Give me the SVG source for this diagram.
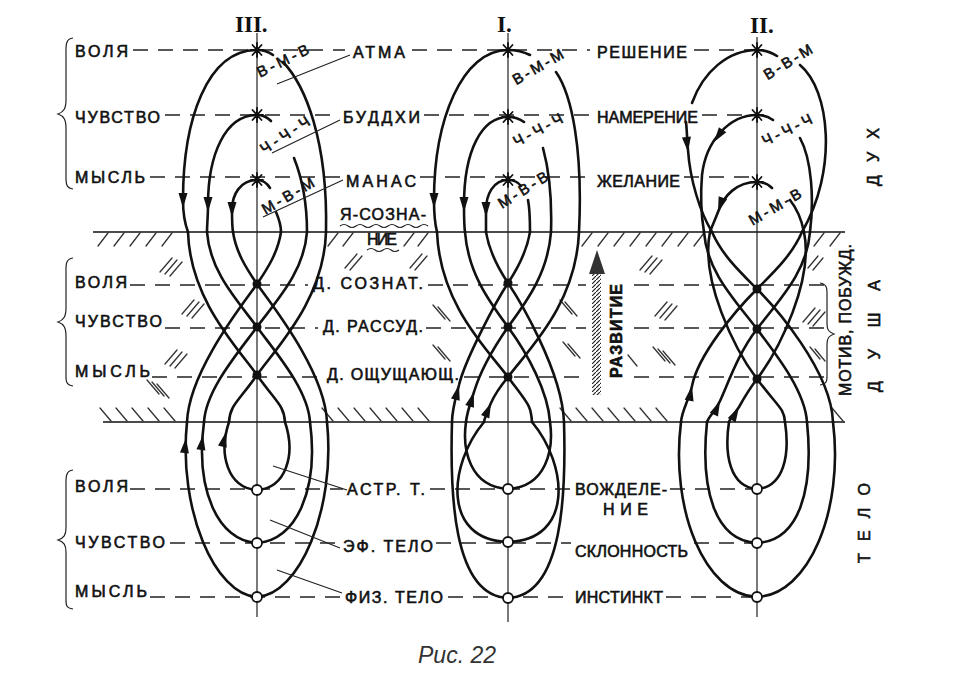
<svg xmlns="http://www.w3.org/2000/svg" width="958" height="680" viewBox="0 0 958 680">
<defs>
<style>
.c{fill:none;stroke:#111;stroke-width:2.6;stroke-linecap:round;stroke-linejoin:round}
.ax{fill:none;stroke:#222;stroke-width:1.2}
.bd{fill:none;stroke:#111;stroke-width:1.6}
.ds{fill:none;stroke:#222;stroke-width:1.4;stroke-dasharray:15 10}
.th{fill:none;stroke:#222;stroke-width:1.2}
.ht{fill:none;stroke:#333;stroke-width:1.3;stroke-linecap:round}
.t{font-family:"Liberation Sans","DejaVu Sans",sans-serif;font-size:16px;fill:#111;stroke:#111;stroke-width:0.6}
.s{font-size:15px}
.rn{font-family:"Liberation Serif","DejaVu Serif",serif;font-size:23px;font-weight:bold;fill:#111}
.dot{fill:#111}
.cir{fill:#fff;stroke:#111;stroke-width:1.8}
</style>
<path id="ah" d="M0,0 L-4.5,-15 L4.5,-15 Z" fill="#111"/>
<g id="st"><path d="M-6,0H6M0,-7V7M-4.5,-5L4.5,5M-4.5,5L4.5,-5" stroke="#111" stroke-width="1.8" stroke-linecap="round"/><circle r="2.2" fill="#111"/></g>
<pattern id="hp" width="4" height="4" patternUnits="userSpaceOnUse"><path d="M0,4 L4,0" stroke="#222" stroke-width="1.2"/></pattern>
</defs>
<rect width="958" height="680" fill="#fff"/>

<g id="band">
<path class="bd" d="M93,232 H845 M103,422 H845"/>
<path class="ht" d="M98,246 l10,-13 m6,13 l10,-13 m6,13 l10,-13 m6,13 l10,-13 m6,13 l10,-13 M328,246 l10,-13 m5,13 l10,-13 M404,246 l10,-13 m4,13 l10,-13 M582,246 l10,-13 m6,13 l10,-13 m6,13 l10,-13 m6,13 l10,-13 m6,13 l10,-13 m6,13 l10,-13 m6,13 l10,-13 m6,13 l10,-13 M814,246 l10,-13 m6,13 l10,-13"/>
<path class="ht" d="M100,408 l11,13 m5,-13 l11,13 m5,-13 l11,13 m5,-13 l11,13 m5,-13 l11,13 M322,408 l11,13 m5,-13 l11,13 m5,-13 l11,13 m5,-13 l11,13 m5,-13 l11,13 m5,-13 l11,13 m5,-13 l11,13 M560,408 l11,13 m5,-13 l11,13 m5,-13 l11,13 m5,-13 l11,13 m5,-13 l11,13 m5,-13 l11,13 m5,-13 l11,13 M832,408 l11,13"/>
<path class="ht" d="M160,272 l12,-14 m-7,16 l12,-14 m-7,16 l12,-14 M182,314 l12,-14 m-7,16 l12,-14 m-7,16 l12,-14 M165,364 l12,-14 m-7,16 l12,-14 m-7,16 l12,-14 M345,268 l12,-14 m-7,16 l12,-14 M410,268 l12,-14 m-7,16 l12,-14 M640,270 l12,-14 m-7,16 l12,-14 m-7,16 l12,-14 M655,316 l12,-14 m-7,16 l12,-14 m-7,16 l12,-14 M803,322 l12,-14 m-7,16 l12,-14 m-7,16 l12,-14 M808,268 l10,-12 m-5,14 l10,-12"/>
<path class="ht" d="M147,380 l12,14 m-7,-12 l12,14 m-7,-12 l12,14 M433,305 l12,14 m-7,-12 l12,14 M433,345 l12,14 m-7,-12 l12,14 M560,300 l12,14 m-7,-12 l12,14 M563,342 l12,14 m-7,-12 l12,14 M628,355 l9,11 M653,347 l12,14 m-7,-12 l12,14 m-7,-12 l12,14 M810,347 l10,12 m-5,-10 l10,12"/>
</g>

<g id="dashes">
<path class="ds" d="M133,50 H345 M412,50 H590 M694,50 H752 M165,115 H337 M424,115 H591 M702,115 H752 M150,177 H342 M420,177 H591 M684,177 H752"/>
<path class="ds" d="M130,285 H308 M428,285 H586 M634,285 H826 M165,328 H318 M426,328 H586 M634,328 H826 M152,377 H322 M464,377 H586 M634,377 H826"/>
<path class="ds" d="M130,489 H343 M430,489 H571 M670,489 H757 M170,543 H339 M436,543 H571 M694,543 H757 M150,597 H341 M448,597 H571 M666,597 H757"/>
</g>

<g id="axes">
<path class="ax" d="M257,33 V617 M508,33 V622 M757,37 V617"/>
</g>

<g id="connectors">
<path class="c" d="M257,50 C207,50 183,120 183,200 C183,214 185,224 188,232"/>
<path class="c" d="M257,50 C264,50 269,52 273,55 M283,62 C305,85 328,140 326,232"/>
<path class="c" d="M257,115 C225,115 208,155 208,205 C208,216 207,225 207,232"/>
<path class="c" d="M257,115 C263,115 267,117 271,121 M294,158 C302,178 307,205 307,232"/>
<path class="c" d="M257,180 C240,180 232,195 232,210 C232,218 232,226 233,232"/>
<path class="c" d="M257,180 C263,180 267,183 270,188 M276,212 C279,219 281,226 281,232"/>
<path class="c" d="M233,232 C236,252 246,268 257,284 S325,370 327,422"/>
<path class="c" d="M281,232 C278,252 268,268 257,284 S189,370 187,422"/>
<path class="c" d="M207,232 C210,272 237,300 257,327 S308,390 310,422"/>
<path class="c" d="M307,232 C304,272 277,300 257,327 S206,390 204,422"/>
<path class="c" d="M188,232 C190,300 238,348 257,375 S284,405 285,422"/>
<path class="c" d="M326,232 C324,300 276,348 257,375 S230,405 229,422"/>
<path class="c" d="M229,422 C218,455 228,488 257,490 C286,488 296,455 285,422"/>
<path class="c" d="M204,422 C195,490 218,541 257,543 C296,541 319,490 310,422"/>
<path class="c" d="M187,422 C178,510 215,595 257,597 C299,595 336,510 327,422"/>
<path class="c" d="M508,50 C462,50 434,120 434,200 C434,214 435,224 437,232"/>
<path class="c" d="M508,50 C517,50 524,52 530,55 M556,72 C572,95 583,150 579,232"/>
<path class="c" d="M508,117 C482,117 464,150 464,205 C464,216 464,225 465,232"/>
<path class="c" d="M508,117 C515,117 520,119 524,122 M543,148 C549,170 552,200 551,232"/>
<path class="c" d="M508,180 C493,180 486,195 486,210 C486,218 486,226 486,232"/>
<path class="c" d="M508,180 C514,180 518,182 521,186 M528,200 C530,210 530,222 530,232"/>
<path class="c" d="M486,232 C489,250 498,268 508,283 S562,370 564,422"/>
<path class="c" d="M465,232 C468,272 488,300 508,327 S548,392 550,422"/>
<path class="c" d="M437,232 C440,305 488,350 508,377 S531,405 532,422"/>
<path class="c" d="M530,232 C527,250 518,268 508,283 C495,303 465,360 459,385 C455,400 452,410 452,422"/>
<path class="c" d="M551,232 C548,272 528,300 508,327 C492,350 480,372 474,392 C470,404 467,412 466,422"/>
<path class="c" d="M579,232 C576,305 528,350 508,377 C499,388 494,396 491,403 C488,410 485,416 484,422"/>
<path class="c" d="M452,422 C450,490 452,596 508,598 C564,596 566,490 564,422"/>
<path class="c" d="M466,422 C462,450 470,487 508,489 C546,487 554,450 550,422"/>
<path class="c" d="M484,422 C448,465 442,540 508,542 C574,540 568,465 532,422"/>
<path class="c" d="M757,50 C728,50 703,72 692,103"/>
<path class="c" d="M686,122 C687,130 687,140 688,150 C690,180 700,212 712,232"/>
<path class="c" d="M757,50 C765,50 771,52 777,56 M800,65 C830,90 838,170 802,232"/>
<path class="c" d="M757,115 C730,115 706,140 702,175 C700,200 702,220 704,232"/>
<path class="c" d="M757,115 C764,115 769,117 773,120 M800,138 C812,160 814,200 810,232"/>
<path class="c" d="M757,182 C737,182 724,195 718,212 C715,220 712,226 710,232"/>
<path class="c" d="M757,182 C763,182 768,184 772,188 M790,200 C798,210 802,222 804,232"/>
<path class="c" d="M712,232 C722,255 740,272 757,289 S831,370 833,422"/>
<path class="c" d="M704,232 C707,272 735,300 757,329 S805,392 807,422"/>
<path class="c" d="M710,232 C700,280 735,350 757,379 S784,408 785,422"/>
<path class="c" d="M802,232 C792,255 774,272 757,289 C735,311 698,355 692,386 C689,400 682,410 681,422"/>
<path class="c" d="M810,232 C807,272 779,300 757,329 C739,352 729,381 720,401 C715,412 709,416 707,422"/>
<path class="c" d="M804,232 C814,280 779,350 757,379 C750,388 744,398 739,407 C735,413 731,417 729,422"/>
<path class="c" d="M729,422 C724,455 730,487 757,489 C784,487 790,455 785,422"/>
<path class="c" d="M707,422 C700,490 715,541 757,543 C799,541 814,490 807,422"/>
<path class="c" d="M681,422 C670,510 705,595 757,597 C809,595 844,510 833,422"/>
<use href="#ah" transform="translate(183,208)"/>
<use href="#ah" transform="translate(208,212)"/>
<use href="#ah" transform="translate(232,217)"/>
<use href="#ah" transform="translate(186,438) rotate(-174)"/>
<use href="#ah" transform="translate(203,435) rotate(-172)"/>
<use href="#ah" transform="translate(226,432) rotate(-166)"/>
<use href="#ah" transform="translate(434,208)"/>
<use href="#ah" transform="translate(464,212)"/>
<use href="#ah" transform="translate(486,217)"/>
<use href="#ah" transform="translate(459,385) rotate(-166)"/>
<use href="#ah" transform="translate(474,392) rotate(-163)"/>
<use href="#ah" transform="translate(491,403) rotate(-157)"/>
<use href="#ah" transform="translate(688,152) rotate(-6)"/>
<use href="#ah" transform="translate(714,142) rotate(35)"/>
<use href="#ah" transform="translate(718,212) rotate(19)"/>
<use href="#ah" transform="translate(692,386) rotate(-169)"/>
<use href="#ah" transform="translate(720,401) rotate(-156)"/>
<use href="#ah" transform="translate(739,407) rotate(-151)"/>
<path class="th" d="M350,55 L277,84 M340,120 L272,153 M343,180 L263,217 M347,490 L273,466 M340,548 L270,520 M342,593 L277,570"/>
</g>

<g id="fig3-nodes">
<use href="#st" x="257" y="50"/><use href="#st" x="257" y="115"/><use href="#st" x="257" y="180"/>
<circle class="dot" cx="257" cy="284" r="4.5"/><circle class="dot" cx="257" cy="327" r="4.5"/><circle class="dot" cx="257" cy="375" r="4.5"/>
<circle class="cir" cx="257" cy="490" r="5"/><circle class="cir" cx="257" cy="543" r="5"/><circle class="cir" cx="257" cy="597" r="5"/>
<text class="rn" x="235" y="32">III.</text>
<text class="t s" text-anchor="middle" textLength="56" transform="translate(283,61) rotate(-26)" y="5">В-М-В</text>
<text class="t s" text-anchor="middle" textLength="56" transform="translate(285,135) rotate(-33)" y="5">Ч-Ч-Ч</text>
<text class="t s" text-anchor="middle" textLength="58" transform="translate(288,196) rotate(-30)" y="5">М-В-М</text>
</g>

<g id="fig1-nodes">
<use href="#st" x="508" y="50"/><use href="#st" x="508" y="117"/><use href="#st" x="508" y="180"/>
<circle class="dot" cx="508" cy="283" r="4.5"/><circle class="dot" cx="508" cy="327" r="4.5"/><circle class="dot" cx="508" cy="377" r="4.5"/>
<circle class="cir" cx="508" cy="489" r="5"/><circle class="cir" cx="508" cy="542" r="5"/><circle class="cir" cx="508" cy="598" r="5"/>
<text class="rn" x="497" y="32">I.</text>
<text class="t s" text-anchor="middle" textLength="56" transform="translate(538,67) rotate(-30)" y="5">В-М-М</text>
<text class="t s" text-anchor="middle" textLength="54" transform="translate(538,130) rotate(-28)" y="5">Ч-Ч-Ч</text>
<text class="t s" text-anchor="middle" textLength="56" transform="translate(523,190) rotate(-32)" y="5">М-В-В</text>
</g>

<g id="fig2-nodes">
<use href="#st" x="757" y="50"/><use href="#st" x="757" y="115"/><use href="#st" x="757" y="182"/>
<circle class="dot" cx="757" cy="289" r="4.5"/><circle class="dot" cx="757" cy="329" r="4.5"/><circle class="dot" cx="757" cy="379" r="4.5"/>
<circle class="cir" cx="757" cy="489" r="5"/><circle class="cir" cx="757" cy="543" r="5"/><circle class="cir" cx="757" cy="597" r="5"/>
<text class="rn" x="750" y="33">II.</text>
<text class="t s" text-anchor="middle" textLength="54" transform="translate(788,62) rotate(-31)" y="5">В-В-М</text>
<text class="t s" text-anchor="middle" textLength="54" transform="translate(787,130) rotate(-26)" y="5">Ч-Ч-Ч</text>
<text class="t s" text-anchor="middle" textLength="58" transform="translate(775,207) rotate(-30)" y="5">М-М-В</text>
</g>

<g id="left-labels">
<path class="th" d="M73,38 C65,39 66,46 66,56 L66,100 C66,108 64,112 58,114 C64,116 66,120 66,128 L66,172 C66,182 65,188 73,189 M73,258 C65,259 66,266 66,274 L66,308 C66,316 64,320 58,322 C64,324 66,328 66,336 L66,372 C66,380 65,385 73,386 M73,470 C65,471 66,478 66,488 L66,528 C66,535 64,538 58,540 C64,542 66,545 66,552 L66,596 C66,604 65,608 73,609"/>
<text class="t" x="75" y="57" textLength="53">ВОЛЯ</text>
<text class="t" x="75" y="123" textLength="85">ЧУВСТВО</text>
<text class="t" x="75" y="183" textLength="70">МЫСЛЬ</text>
<text class="t" x="75" y="288" textLength="52">ВОЛЯ</text>
<text class="t" x="75" y="327" textLength="87">ЧУВСТВО</text>
<text class="t" x="75" y="377" textLength="75">МЫСЛЬ</text>
<text class="t" x="75" y="492" textLength="53">ВОЛЯ</text>
<text class="t" x="75" y="548" textLength="90">ЧУВСТВО</text>
<text class="t" x="75" y="597" textLength="72">МЫСЛЬ</text>
</g>

<g id="middle-labels">
<text class="t" x="353" y="58" textLength="52">АТМА</text>
<text class="t" x="343" y="123" textLength="77">БУДДХИ</text>
<text class="t" x="346" y="187" textLength="70">МАНАС</text>
<text class="t" x="340" y="220" textLength="86">Я-СОЗНА-</text>
<path class="th" d="M340,226 q4,-3 8,0 t8,0 t8,0 t8,0 t8,0 t8,0 t8,0 t8,0 t8,0 t8,0 t8,0"/>
<text class="t" x="367" y="245" textLength="30">НИЕ</text>
<path class="th" d="M367,250 q4,-3 8,0 t8,0 t8,0 t8,0"/>
<text class="t" x="313" y="289" textLength="110">Д. СОЗНАТ.</text>
<text class="t" x="323" y="332" textLength="100">Д. РАССУД.</text>
<text class="t" x="327" y="380" textLength="132">Д. ОЩУЩАЮЩ.</text>
<text class="t" x="347" y="495" textLength="78">АСТР. Т.</text>
<text class="t" x="343" y="552" textLength="90">ЭФ. ТЕЛО</text>
<text class="t" x="345" y="603" textLength="98">ФИЗ. ТЕЛО</text>
</g>

<g id="right-labels">
<text class="t" x="597" y="58" textLength="90">РЕШЕНИЕ</text>
<text class="t" x="597" y="123" textLength="101">НАМЕРЕНИЕ</text>
<text class="t" x="597" y="187" textLength="83">ЖЕЛАНИЕ</text>
<text class="t" x="575" y="495" textLength="92">ВОЖДЕЛЕ-</text>
<text class="t" x="603" y="515" textLength="45">НИЕ</text>
<text class="t" x="575" y="557" textLength="113">СКЛОННОСТЬ</text>
<text class="t" x="575" y="603" textLength="88">ИНСТИНКТ</text>
</g>

<g id="development">
<rect x="592" y="268" width="9" height="127" fill="url(#hp)"/>
<path d="M597,250 L589,274 L605,274 Z" fill="#333"/>
<text class="t" font-weight="bold" font-size="15" text-anchor="middle" textLength="94" transform="translate(622,331) rotate(-90)">РАЗВИТИЕ</text>
</g>

<g id="side-labels">
<path class="th" d="M820,283 C828,284 827,290 827,298 L827,324 C827,330 829,332 834,334 C829,336 827,338 827,344 L827,372 C827,380 828,384 820,385"/>
<text class="t" font-size="15" text-anchor="middle" textLength="152" transform="translate(851,320) rotate(-90)">МОТИВ, ПОБУЖД.</text>
<text class="t" font-size="19" text-anchor="middle" textLength="58" transform="translate(879,157) rotate(-90)">ДУХ</text>
<text class="t" font-size="20" text-anchor="middle" textLength="112" transform="translate(880,336) rotate(-90)">ДУША</text>
<text class="t" font-size="16" text-anchor="middle" textLength="80" transform="translate(870,523) rotate(-90)">ТЕЛО</text>
</g>

<text x="418" y="663" font-family="Liberation Sans, DejaVu Sans, sans-serif" font-style="italic" font-size="23" fill="#333">Рис. 22</text>
</svg>
